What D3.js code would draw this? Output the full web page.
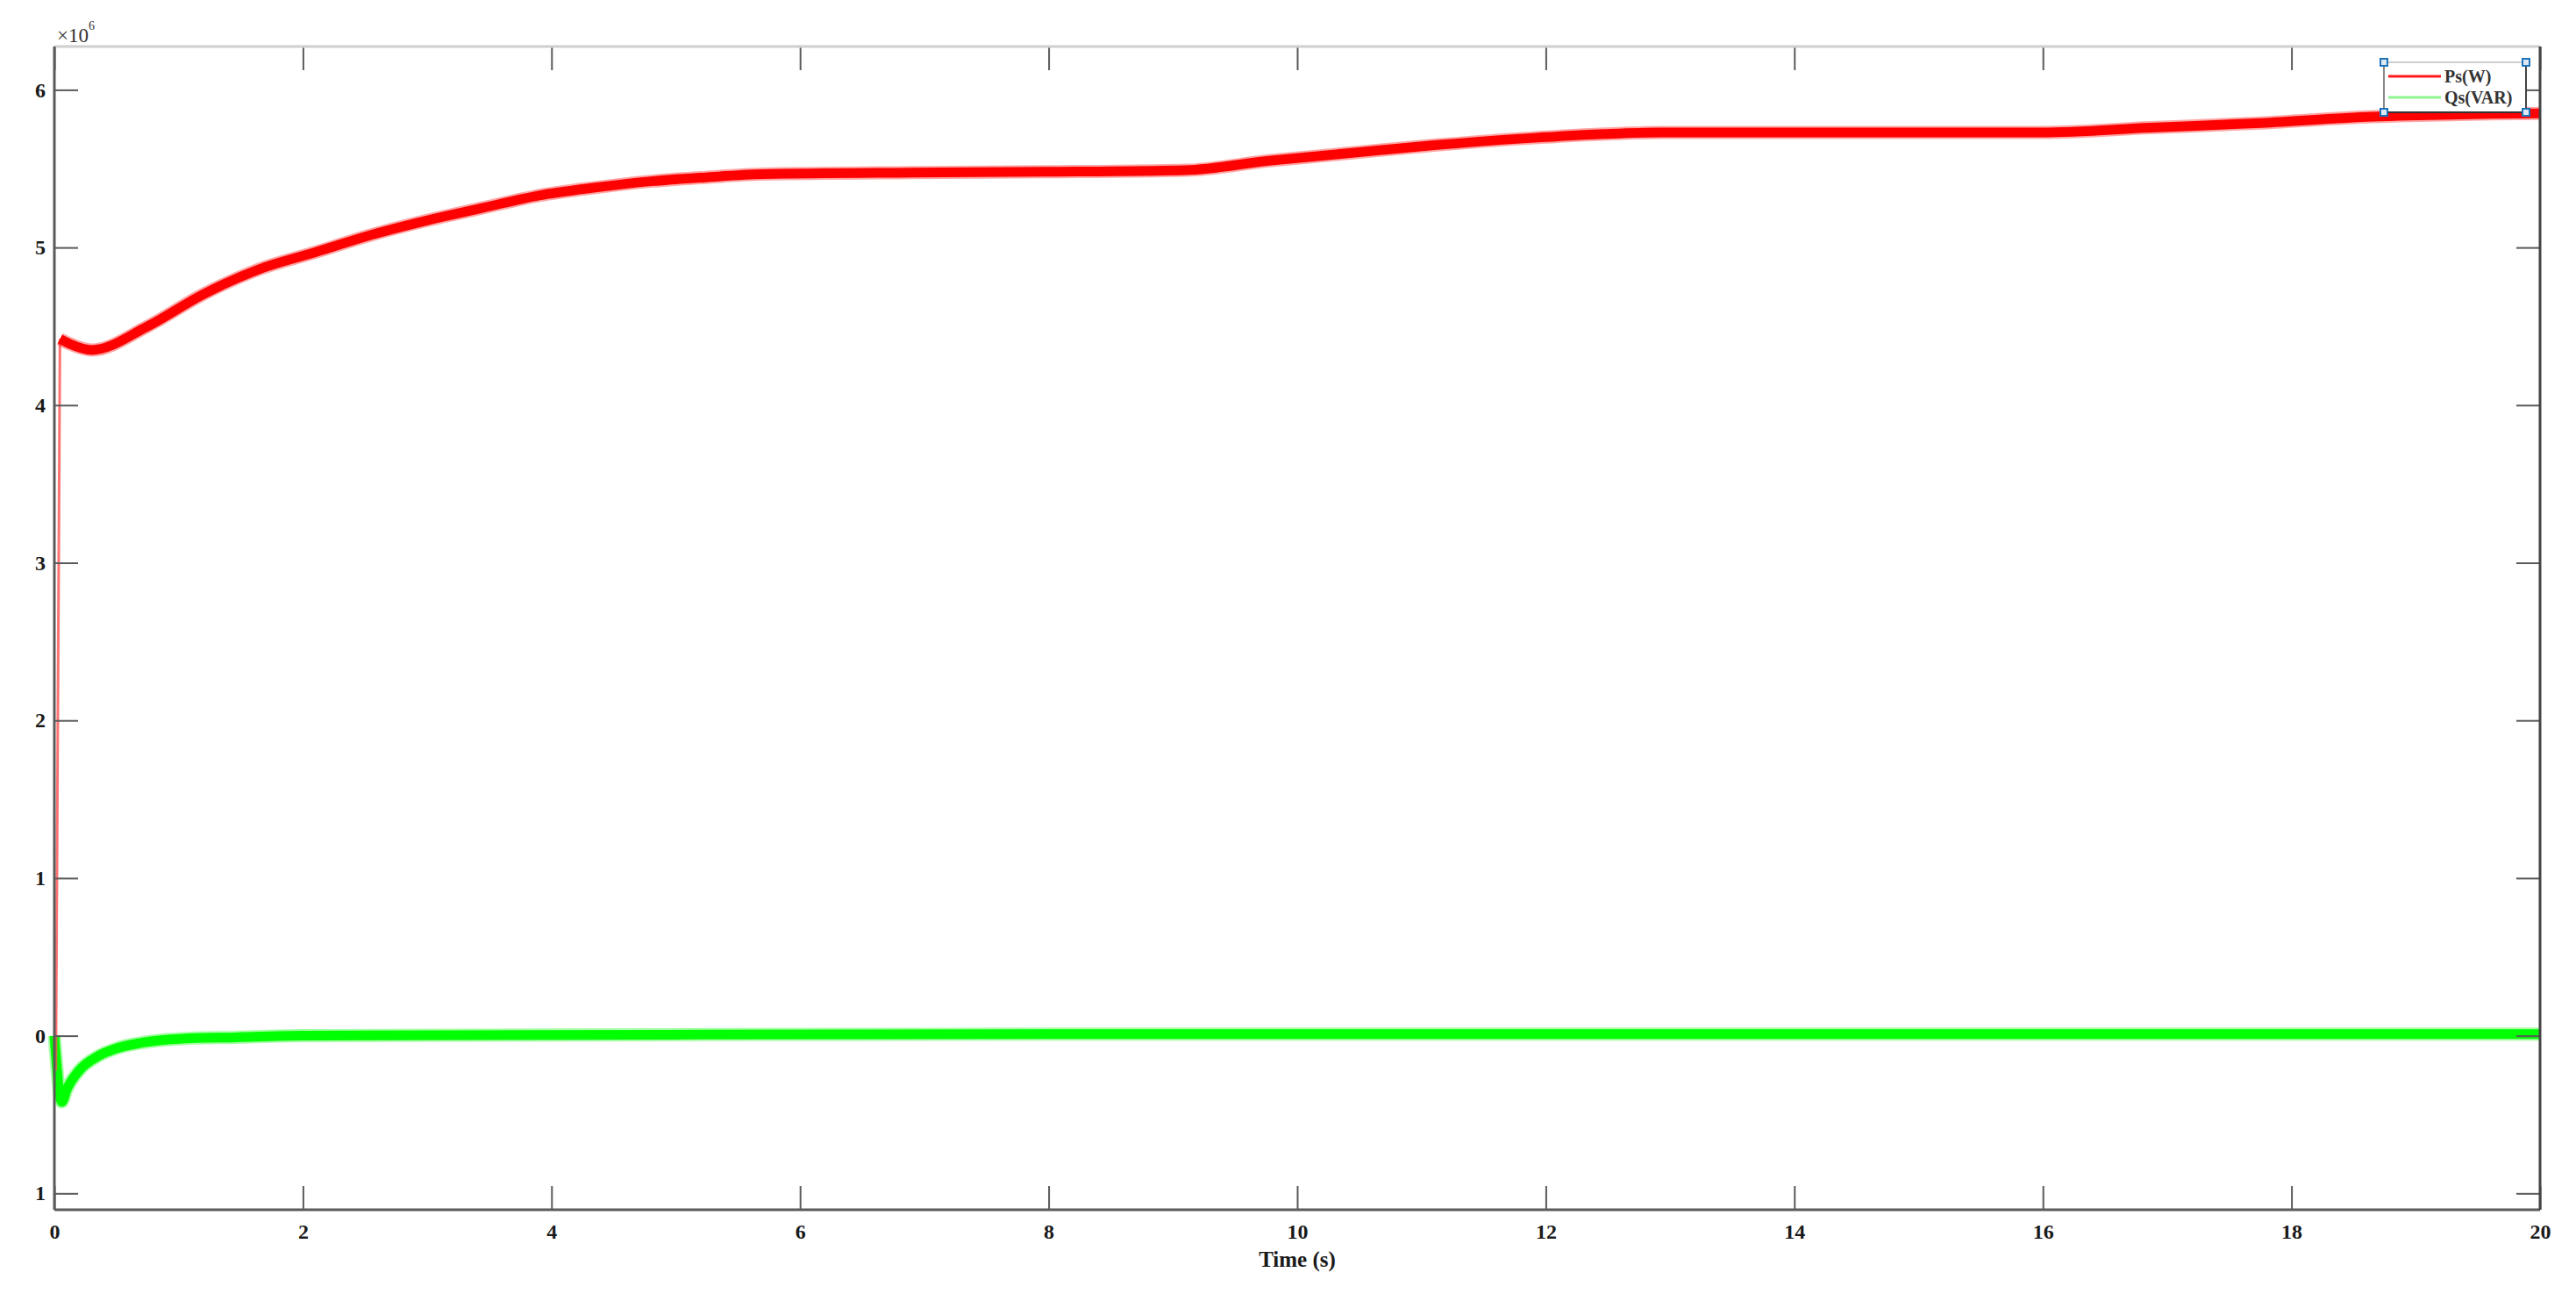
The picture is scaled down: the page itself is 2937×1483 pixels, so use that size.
<!DOCTYPE html>
<html>
<head>
<meta charset="utf-8">
<script src="https://cdn.jsdelivr.net/npm/d3@7"></script>
<style>
  html, body { margin: 0; padding: 0; background: #fff; }
  svg { display: block; font-family: "Liberation Serif", "Times New Roman", serif; }
</style>
</head>
<body>
<script>
// Ps (W), in units of 1e6
const psTime  = [0, 0.012, 0.045, 0.12, 0.3, 0.75, 1.19, 1.64, 2.1, 2.55, 2.99, 3.44, 3.9, 4.35, 4.8, 5.24, 5.7, 6.9, 7.97, 9.1, 9.77, 10.44, 11.12, 11.79, 12.47, 12.92, 13.68, 15.99, 16.87, 17.76, 18.65, 20];
const psValue = [0, -0.22, 4.42, 4.39, 4.35, 4.5, 4.7, 4.86, 4.97, 5.08, 5.17, 5.25, 5.33, 5.38, 5.42, 5.445, 5.465, 5.475, 5.48, 5.49, 5.55, 5.6, 5.65, 5.69, 5.72, 5.73, 5.73, 5.73, 5.76, 5.79, 5.83, 5.85];
// Qs (VAR), in units of 1e6
const qsTime  = [0, 0.06, 0.1, 0.2, 0.35, 0.5, 0.7, 1.0, 1.46, 2.0, 4.0, 8.0, 12.0, 16.0, 20];
const qsValue = [0, -0.42, -0.34, -0.22, -0.13, -0.08, -0.045, -0.02, -0.01, 0.0, 0.005, 0.01, 0.01, 0.01, 0.01];

const xTicks = [0, 2, 4, 6, 8, 10, 12, 14, 16, 18, 20];
const yTicks = [-1, 0, 1, 2, 3, 4, 5, 6];
const yTickLabels = ["1", "0", "1", "2", "3", "4", "5", "6"];
const seriesNames = ["Ps(W)", "Qs(VAR)"];

const W = 2937, H = 1483;
const margin = { top: 53, right: 41, bottom: 104, left: 62 };

const svg = d3.select("body").append("svg")
  .attr("width", W).attr("height", H);

const x = d3.scaleLinear().domain([0, 20]).range([margin.left, W - margin.right]);
const y = d3.scaleLinear().domain([-1.104, 6.275]).range([H - margin.bottom, margin.top]);

const ps = psTime.map((t, i) => [t, psValue[i]]);
const qs = qsTime.map((t, i) => [t, qsValue[i]]);

const line = d3.line()
  .x(d => x(d[0]))
  .y(d => y(d[1]))
  .curve(d3.curveMonotoneX);

const plot = svg.append("g");

// green Qs trace
plot.append("path").attr("d", line(qs))
  .attr("fill", "none").attr("stroke", "#00ff00").attr("stroke-opacity", 0.35)
  .attr("stroke-width", 15).attr("stroke-linejoin", "round");
plot.append("path").attr("d", line(qs))
  .attr("fill", "none").attr("stroke", "#00ff00")
  .attr("stroke-width", 11).attr("stroke-linejoin", "round");

// red Ps trace: the start-up transient is a thin spike, the rest is a thick band
const psStart = ps.slice(0, 3);
const psRest = ps.slice(2);
plot.append("path").attr("d", d3.line().x(d => x(d[0])).y(d => y(d[1]))(psStart))
  .attr("fill", "none").attr("stroke", "#ff5050").attr("stroke-opacity", 0.8)
  .attr("stroke-width", 3);
plot.append("path").attr("d", line(psRest))
  .attr("fill", "none").attr("stroke", "#ff0000").attr("stroke-opacity", 0.35)
  .attr("stroke-width", 15).attr("stroke-linejoin", "round");
plot.append("path").attr("d", line(psRest))
  .attr("fill", "none").attr("stroke", "#ff0000")
  .attr("stroke-width", 11).attr("stroke-linejoin", "round");

// axes, MATLAB style: box with inward ticks on every side
const tickLen = 27;
const axisColor = "#5a5a5a";
const axes = svg.append("g");

const xBottom = d3.axisBottom(x).tickValues(xTicks).tickSize(-tickLen).tickPadding(16)
  .tickFormat(d3.format("d"));
axes.append("g").attr("transform", `translate(0,${H - margin.bottom})`).call(xBottom)
  .call(g => g.select(".domain").remove());

const xTop = d3.axisTop(x).tickValues(xTicks).tickSize(-tickLen).tickFormat("");
axes.append("g").attr("transform", `translate(0,${margin.top})`).call(xTop)
  .call(g => g.select(".domain").remove());

const yLeft = d3.axisLeft(y).tickValues(yTicks).tickSize(-tickLen).tickPadding(10)
  .tickFormat((d, i) => yTickLabels[i]);
axes.append("g").attr("transform", `translate(${margin.left},0)`).call(yLeft)
  .call(g => g.select(".domain").remove());

const yRight = d3.axisRight(y).tickValues(yTicks).tickSize(-tickLen).tickFormat("");
axes.append("g").attr("transform", `translate(${W - margin.right},0)`).call(yRight)
  .call(g => g.select(".domain").remove());

axes.selectAll(".tick line").attr("stroke", axisColor).attr("stroke-width", 2);
axes.selectAll(".tick text")
  .attr("fill", "#1a1a1a").attr("font-size", 24).attr("font-weight", "bold")
  .attr("font-family", "'Liberation Serif', 'Times New Roman', serif");

// frame
const x0 = margin.left, x1 = W - margin.right, y0 = margin.top, y1 = H - margin.bottom;
axes.append("line").attr("x1", x0).attr("x2", x1).attr("y1", y0).attr("y2", y0)
  .attr("stroke", "#cfcfcf").attr("stroke-width", 3);
axes.append("line").attr("x1", x0).attr("x2", x1).attr("y1", y1).attr("y2", y1)
  .attr("stroke", axisColor).attr("stroke-width", 3);
axes.append("line").attr("x1", x0).attr("x2", x0).attr("y1", y0).attr("y2", y1)
  .attr("stroke", axisColor).attr("stroke-width", 3);
axes.append("line").attr("x1", x1).attr("x2", x1).attr("y1", y0).attr("y2", y1)
  .attr("stroke", "#444").attr("stroke-width", 3);

// exponent and x label
const expo = svg.append("text").attr("x", 65).attr("y", 48)
  .attr("font-size", 23).attr("fill", "#333");
expo.append("tspan").text("×10");
expo.append("tspan").attr("font-size", 14).attr("dy", -14).text("6");

svg.append("text")
  .attr("x", x(10)).attr("y", 1444)
  .attr("text-anchor", "middle")
  .attr("font-size", 25).attr("font-weight", "bold").attr("fill", "#1a1a1a")
  .text("Time (s)");

// legend
const lg = svg.append("g").attr("transform", "translate(2718,71)");
const lw = 162, lh = 57;
lg.append("rect").attr("width", lw).attr("height", lh).attr("fill", "#fff");
lg.append("line").attr("x1", 0).attr("x2", lw).attr("y1", 0).attr("y2", 0).attr("stroke", "#cfcfcf").attr("stroke-width", 2);
lg.append("line").attr("x1", 0).attr("x2", 0).attr("y1", 0).attr("y2", lh).attr("stroke", "#888").attr("stroke-width", 2);
lg.append("line").attr("x1", lw).attr("x2", lw).attr("y1", 0).attr("y2", lh).attr("stroke", "#444").attr("stroke-width", 2);
lg.append("line").attr("x1", 0).attr("x2", lw).attr("y1", lh).attr("y2", lh).attr("stroke", "#333").attr("stroke-width", 2);
const legendColors = ["#ff1a1a", "#8ff58f"];
seriesNames.forEach((name, i) => {
  const ly = 16 + i * 24;
  lg.append("line").attr("x1", 5).attr("x2", 65).attr("y1", ly).attr("y2", ly)
    .attr("stroke", legendColors[i]).attr("stroke-width", 3);
  lg.append("text").attr("x", 69).attr("y", ly + 7)
    .attr("font-size", 20).attr("font-weight", "bold").attr("fill", "#333")
    .text(name);
});
// selection handles at the legend corners
[[0, 0], [lw, 0], [0, lh], [lw, lh]].forEach(([hx, hy]) => {
  lg.append("rect").attr("x", hx - 4).attr("y", hy - 4).attr("width", 8).attr("height", 8)
    .attr("fill", "#dbe9f5").attr("stroke", "#1f73b8").attr("stroke-width", 2);
});
</script>
</body>
</html>
